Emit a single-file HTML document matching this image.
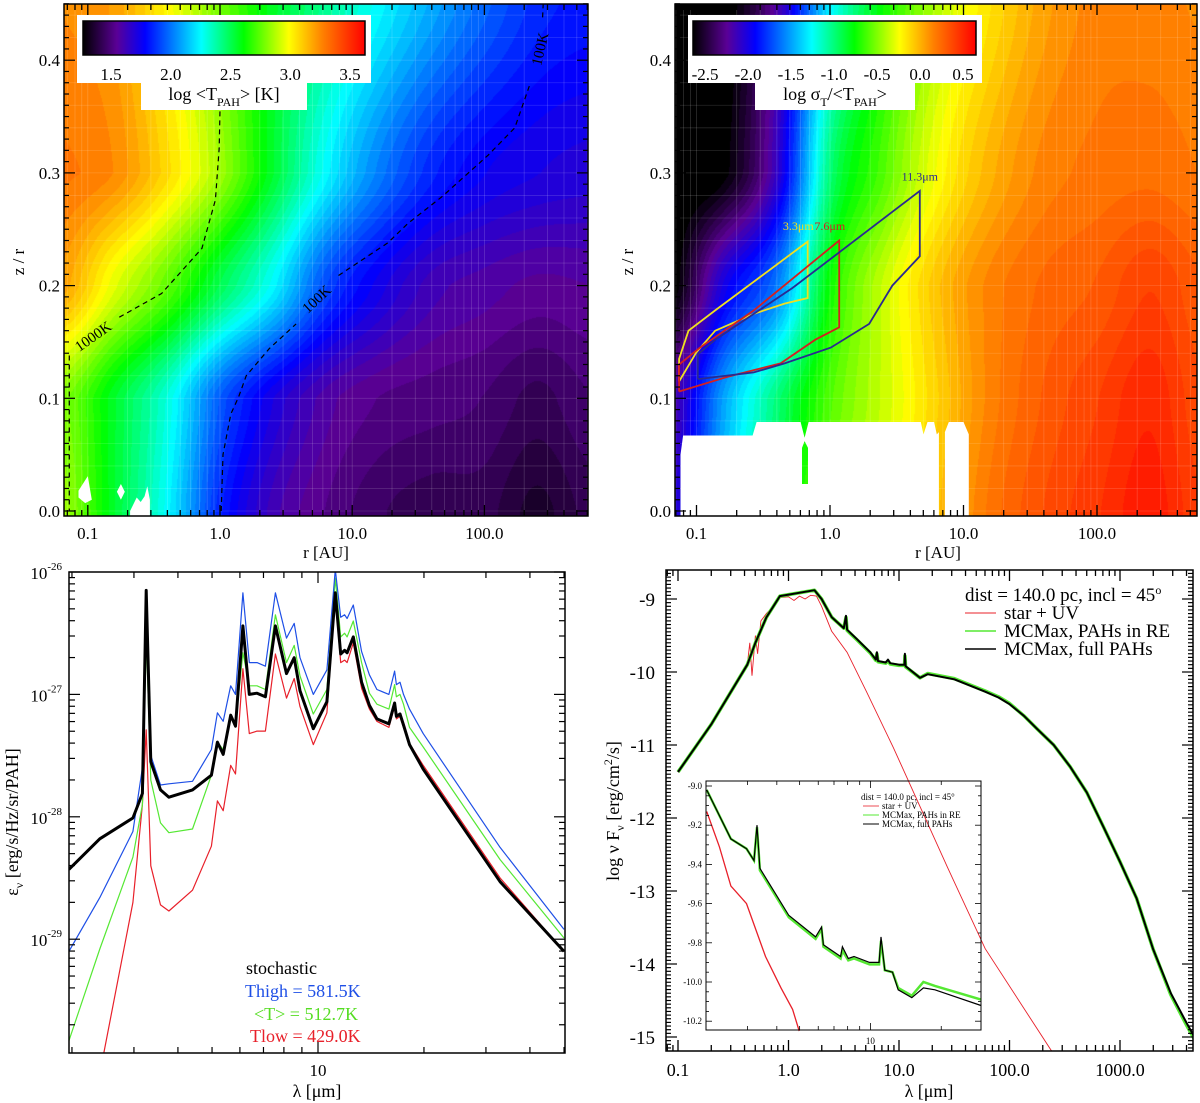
<!DOCTYPE html>
<html style="margin:0;width:1200px;height:1103px;overflow:hidden"><head><meta charset="utf-8"><style>
body{margin:0;background:#fff;width:1200px;height:1103px;overflow:hidden;position:relative;font-family:"Liberation Serif",serif}
canvas,svg{position:absolute;left:0;top:0;display:block}
text{font-family:"Liberation Serif",serif}
</style></head><body>
<canvas id="heat" width="1200" height="1103"></canvas>
<svg id="chart" width="1200" height="1103" xmlns="http://www.w3.org/2000/svg" font-family="Liberation Serif, serif">
<defs>
<clipPath id="cBL"><rect x="69" y="572" width="496" height="481"/></clipPath>
<clipPath id="cBR"><rect x="666" y="570" width="527" height="481"/></clipPath>
<clipPath id="cTL"><rect x="64" y="4" width="524" height="512"/></clipPath>
<clipPath id="cTR"><rect x="675" y="4" width="522" height="512"/></clipPath>
<linearGradient id="cmapGrad" x1="0" x2="1" y1="0" y2="0">
<stop offset="0" stop-color="#000000"/><stop offset="0.12" stop-color="#5a0096"/><stop offset="0.22" stop-color="#0000ff"/><stop offset="0.42" stop-color="#00ffff"/><stop offset="0.57" stop-color="#00ff00"/><stop offset="0.73" stop-color="#ffff00"/><stop offset="0.85" stop-color="#ff8000"/><stop offset="1" stop-color="#ff0000"/>
</linearGradient>
</defs>
<g id="gTL"></g>
<g id="gTR"></g>
<g id="gBL"></g>
<g id="gBR"></g>
<!-- colorbars -->
<rect x="77" y="15" width="294" height="68" fill="#fff"/>
<rect x="141" y="82" width="166" height="28" fill="#fff"/>
<rect x="83" y="21" width="282" height="34" fill="url(#cmapGrad)" stroke="#000" stroke-width="1.5"/>
<text x="224" y="100" font-size="18" text-anchor="middle">log &lt;T<tspan font-size="12" dy="6">PAH</tspan><tspan dy="-6">&gt; [K]</tspan></text>
<rect x="688" y="15" width="294" height="68" fill="#fff"/>
<rect x="755" y="82" width="160" height="28" fill="#fff"/>
<rect x="693" y="21" width="283" height="34" fill="url(#cmapGrad)" stroke="#000" stroke-width="1.5"/>
<text x="835" y="100" font-size="18" text-anchor="middle">log σ<tspan font-size="12" dy="6">T</tspan><tspan dy="-6">/&lt;T</tspan><tspan font-size="12" dy="6">PAH</tspan><tspan dy="-6">&gt;</tspan></text>
<g id="gCB"></g>
<!-- axis titles -->
<text x="326" y="558" font-size="17" text-anchor="middle">r [AU]</text>
<text x="938" y="558" font-size="17" text-anchor="middle">r [AU]</text>
<text transform="translate(24,262) rotate(-90)" font-size="17" text-anchor="middle">z / r</text>
<text transform="translate(633,262) rotate(-90)" font-size="17" text-anchor="middle">z / r</text>
<text x="317" y="1097" font-size="18" text-anchor="middle">λ [μm]</text>
<text x="929" y="1097" font-size="18" text-anchor="middle">λ [μm]</text>
<text transform="translate(18,822) rotate(-90)" font-size="18" text-anchor="middle">ε<tspan font-size="12" dy="5">ν</tspan><tspan dy="-5"> [erg/s/Hz/sr/PAH]</tspan></text>
<text transform="translate(619,811) rotate(-90)" font-size="18" text-anchor="middle">log ν F<tspan font-size="12" dy="5">ν</tspan><tspan dy="-5"> [erg/cm</tspan><tspan font-size="12" dy="-7">2</tspan><tspan dy="7">/s]</tspan></text>
<!-- BL legend -->
<text x="246" y="974" font-size="18" fill="#000">stochastic</text>
<text x="245" y="997" font-size="18" fill="#1e4fe6">Thigh = 581.5K</text>
<text x="254" y="1020" font-size="18" fill="#55dd22">&lt;T&gt; = 512.7K</text>
<text x="250" y="1042" font-size="18" fill="#e8202a">Tlow = 429.0K</text>
<!-- BR legend -->
<text x="965" y="601" font-size="19">dist = 140.0 pc,  incl = 45<tspan font-size="12" dy="-7">o</tspan></text>
<line x1="965" y1="613" x2="996" y2="613" stroke="#e8202a" stroke-width="1"/>
<text x="1004" y="619" font-size="19">star + UV</text>
<line x1="965" y1="631" x2="996" y2="631" stroke="#55e833" stroke-width="1.5"/>
<text x="1004" y="637" font-size="19">MCMax, PAHs in RE</text>
<line x1="965" y1="649" x2="996" y2="649" stroke="#000" stroke-width="1.5"/>
<text x="1004" y="655" font-size="19">MCMax, full PAHs</text>
<!-- inset legend -->
<text x="861" y="800" font-size="9">dist = 140.0 pc,  incl = 45°</text>
<line x1="863" y1="806" x2="879" y2="806" stroke="#e8202a" stroke-width="0.8"/>
<text x="882" y="809" font-size="9">star + UV</text>
<line x1="863" y1="815" x2="879" y2="815" stroke="#55e833" stroke-width="1"/>
<text x="882" y="818" font-size="9">MCMax, PAHs in RE</text>
<line x1="863" y1="824" x2="879" y2="824" stroke="#000" stroke-width="1"/>
<text x="882" y="827" font-size="9">MCMax, full PAHs</text>
</svg>
<script>
// ===== data: top-left temperature map (log T) on grid of log r x z/r =====
const mapLogR=[-1.2,-0.8,-0.4,0,0.4,0.8,1.2,1.6,2.0,2.4,2.8];
const mapZ=[0,0.1,0.2,0.3,0.45];
const tlT_z000=[2.85,2.55,2.25,1.85,1.62,1.52,1.45,1.42,1.42,1.35,1.42];
const tlT_z010=[2.8,2.55,2.3,1.95,1.72,1.58,1.52,1.5,1.48,1.43,1.48];
const tlT_z020=[3.2,2.95,2.75,2.5,2.25,1.92,1.74,1.62,1.58,1.55,1.56];
const tlT_z030=[3.3,3.25,3.07,2.85,2.55,2.25,2.02,1.85,1.76,1.72,1.7];
const tlT_z045=[3.25,3.2,3.0,2.78,2.56,2.41,2.25,2.1,1.97,1.86,1.82];
// top-right dispersion map (log sigma/T)
const trS_z000=[-2.1,-1.4,-0.9,-0.5,-0.3,-0.05,0.2,0.35,0.45,0.55,0.4];
const trS_z010=[-2.2,-1.5,-1.0,-0.6,-0.35,-0.1,0.15,0.3,0.4,0.5,0.35];
const trS_z020=[-2.7,-2.0,-1.6,-0.75,-0.35,-0.05,0.15,0.25,0.3,0.4,0.3];
const trS_z030=[-2.7,-2.65,-2.1,-1.0,-0.6,-0.25,0.0,0.15,0.2,0.22,0.18];
const trS_z045=[-2.7,-2.7,-2.2,-1.3,-0.75,-0.4,-0.15,0.05,0.15,0.15,0.12];
const tlColorTicks=[1.5,2.0,2.5,3.0,3.5];
const trColorTicks=[-2.5,-2.0,-1.5,-1.0,-0.5,0.0,0.5];
// contours (log r, z/r)
const c1000_lr=[-0.762,-0.442,-0.137,-0.035,-0.006,0];
const c1000_z=[0.172,0.193,0.233,0.276,0.322,0.356];
const c1000edge_lr=[-1.14,-1.14];
const c1000edge_z=[0.138,0.0];
const c100a_lr=[0.009,0.023,0.082,0.14,0.198,0.372,0.576];
const c100a_z=[0.0,0.05,0.086,0.101,0.12,0.144,0.166];
const c100b_lr=[0.896,1.27,1.42,1.68,2.03,2.23,2.34];
const c100b_z=[0.209,0.238,0.255,0.279,0.316,0.34,0.377];
const c100c_lr=[2.44,2.445];
const c100c_z=[0.438,0.45];
// band-emission regions (log r, z/r)
const reg33_lr=[-1.13,-1.13,-1.06,-0.86,-0.167,-0.167,-0.34,-0.57,-0.86,-1.0,-1.13];
const reg33_z=[0.115,0.135,0.16,0.178,0.239,0.189,0.184,0.175,0.16,0.141,0.115];
const reg76_lr=[-1.13,-1.13,-0.974,-0.571,0.069,0.069,-0.11,-0.37,-0.77,-1.13];
const reg76_z=[0.106,0.13,0.145,0.178,0.24,0.163,0.152,0.131,0.119,0.106];
const reg113_lr=[-0.99,-0.99,-0.86,-0.28,0.673,0.673,0.467,0.294,0.006,-0.34,-0.571,-0.99];
const reg113_z=[0.117,0.139,0.152,0.198,0.284,0.226,0.2,0.166,0.145,0.131,0.123,0.117];
// masked (no data) regions
const maskA_lr=[-1.12,-1.12,-1.1,-0.58,-0.55,-0.22,-0.19,-0.16,0.68,0.70,0.73,0.78,0.80,0.816,0.816];
const maskA_z=[-0.005,0.05,0.067,0.067,0.079,0.079,0.065,0.079,0.079,0.068,0.079,0.079,0.068,0.07,-0.005];
const maskHole_lr=[-0.21,-0.165,-0.165,-0.19,-0.21];
const maskHole_z=[0.024,0.024,0.056,0.062,0.056];
const maskB_lr=[0.861,0.861,0.89,1.0,1.04,1.04];
const maskB_z=[-0.005,0.07,0.079,0.079,0.068,-0.005];
const blob1_lr=[-1.07,-1.0,-0.97,-1.02,-1.07];
const blob1_z=[0.018,0.031,0.01,0.007,0.012];
const blob2_lr=[-0.78,-0.75,-0.72,-0.75];
const blob2_z=[0.017,0.024,0.017,0.01];
const blob3_lr=[-0.68,-0.63,-0.6,-0.57,-0.55,-0.53,-0.53,-0.68];
const blob3_z=[0.0,0.012,0.008,0.013,0.022,0.01,-0.005,-0.005];
// ===== bottom-left emission spectra =====
const specLambda=[1.96,2.40,2.98,3.17,3.25,3.35,3.57,3.77,4.40,4.98,5.18,5.38,5.65,5.83,6.12,6.38,6.71,7.09,7.57,8.14,8.56,8.89,9.7,10.6,11.2,11.6,11.9,12.1,12.6,13.3,14.0,14.7,15.9,16.5,16.7,17.1,17.5,18.2,19.9,32.9,50];
const specStochastic=[-28.43,-28.18,-28.01,-27.81,-26.15,-27.55,-27.78,-27.84,-27.78,-27.66,-27.39,-27.49,-27.17,-27.26,-26.44,-27.00,-26.99,-27.02,-26.44,-26.83,-26.70,-26.97,-27.28,-27.06,-26.17,-26.67,-26.64,-26.66,-26.53,-26.90,-27.09,-27.20,-27.24,-27.07,-27.18,-27.16,-27.25,-27.41,-27.61,-28.53,-29.10];
const specThigh=[-29.10,-28.66,-28.12,-27.6,-26.30,-27.5,-27.74,-27.73,-27.71,-27.45,-27.15,-27.22,-26.93,-27.0,-26.17,-26.74,-26.74,-26.77,-26.17,-26.54,-26.42,-26.7,-27.0,-26.8,-25.98,-26.37,-26.35,-26.38,-26.27,-26.65,-26.84,-26.96,-27.0,-26.81,-26.92,-26.90,-27.0,-27.12,-27.32,-28.25,-28.92];
const specTmean=[-29.83,-29.08,-28.33,-27.9,-26.5,-27.7,-28.05,-28.13,-28.10,-27.66,-27.39,-27.45,-27.18,-27.25,-26.66,-26.93,-26.93,-26.96,-26.35,-26.74,-26.60,-26.85,-27.16,-26.96,-26.05,-26.53,-26.50,-26.53,-26.40,-26.74,-26.99,-27.08,-27.12,-26.92,-27.02,-27.00,-27.08,-27.27,-27.43,-28.35,-28.99];
const specTlow=[-31.5,-30.1,-28.70,-27.9,-27.29,-28.4,-28.72,-28.77,-28.6,-28.24,-27.87,-27.95,-27.58,-27.65,-26.79,-27.32,-27.30,-27.3,-26.67,-27.03,-26.87,-27.1,-27.41,-27.15,-26.2,-26.74,-26.72,-26.74,-26.58,-26.95,-27.12,-27.22,-27.27,-27.1,-27.2,-27.18,-27.27,-27.4,-27.58,-28.5,-29.1];
// ===== bottom-right SED (log lambda, log nuFnu) =====
const sedLogLam=[-1.0,-0.70,-0.373,-0.30,-0.2,-0.078,0.235,0.30,0.392,0.50,0.52,0.53,0.62,0.74,0.79,0.80,0.81,0.88,0.90,0.92,1.0,1.05,1.053,1.06,1.19,1.26,1.50,1.78,1.9,2.0,2.13,2.25,2.4,2.55,2.7,2.85,3.0,3.15,3.3,3.46,3.6,3.70];
const sedFull=[-11.37,-10.72,-9.90,-9.6,-9.25,-8.96,-8.88,-9.0,-9.25,-9.4,-9.23,-9.42,-9.55,-9.73,-9.83,-9.73,-9.85,-9.87,-9.83,-9.88,-9.9,-9.90,-9.75,-9.92,-10.08,-10.03,-10.1,-10.27,-10.35,-10.44,-10.6,-10.78,-11.0,-11.3,-11.65,-12.12,-12.6,-13.1,-13.8,-14.4,-14.8,-15.07];
const sedRE=[-11.37,-10.72,-9.90,-9.6,-9.25,-8.96,-8.88,-9.0,-9.25,-9.4,-9.25,-9.43,-9.56,-9.74,-9.84,-9.75,-9.86,-9.88,-9.85,-9.89,-9.91,-9.91,-9.78,-9.93,-10.08,-10.02,-10.09,-10.26,-10.34,-10.43,-10.6,-10.78,-11.0,-11.3,-11.65,-12.12,-12.6,-13.1,-13.8,-14.42,-14.83,-15.1];
const starLogLam=[-1.0,-0.70,-0.373,-0.35,-0.33,-0.30,-0.28,-0.25,-0.2,-0.15,-0.1,-0.078,0.0,0.05,0.1,0.15,0.2,0.253,0.30,0.39,0.53,0.706,0.95,1.44,1.78,2.38,2.5];
const starFlux=[-11.37,-10.72,-9.90,-9.6,-10.05,-9.5,-9.75,-9.3,-9.2,-9.12,-9.0,-8.98,-8.97,-9.02,-8.96,-9.0,-8.95,-8.96,-9.1,-9.44,-9.73,-10.27,-11.04,-12.68,-13.79,-15.19,-15.6];
// inset
const insLogLam=[0.304,0.407,0.473,0.505,0.518,0.53,0.653,0.767,0.792,0.8,0.873,0.881,0.906,0.93,0.996,1.037,1.045,1.061,1.094,1.118,1.176,1.225,1.274,1.47];
const insFull=[-9.02,-9.27,-9.32,-9.38,-9.2,-9.42,-9.66,-9.77,-9.72,-9.81,-9.87,-9.82,-9.88,-9.87,-9.90,-9.90,-9.77,-9.94,-9.95,-10.04,-10.08,-10.03,-10.04,-10.12];
const insRE=[-9.02,-9.27,-9.32,-9.38,-9.21,-9.43,-9.67,-9.78,-9.73,-9.82,-9.88,-9.84,-9.89,-9.88,-9.91,-9.91,-9.79,-9.94,-9.95,-10.03,-10.07,-10.0,-10.02,-10.09];
const insStarLogLam=[0.304,0.358,0.407,0.473,0.554,0.62,0.669,0.697];
const insStar=[-9.13,-9.31,-9.51,-9.6,-9.87,-10.03,-10.14,-10.25];

// ===== axis transforms =====
const TL={x0:64,x1:588,y0:4,y1:516,xs:v=>220+v*132.2,ys:v=>511-v*1127};
const TR={x0:675,x1:1197,y0:4,y1:516,xs:v=>830+v*133.5,ys:v=>511-v*1127};
const BL={x0:69,x1:565,y0:572,y1:1053,xs:v=>318+(v-1)*352,ys:v=>572+(-26-v)*122.4};
const BR={x0:666,x1:1193,y0:570,y1:1051,xs:v=>678+(v+1)*110.5,ys:v=>599+(-9-v)*73};
const IN={x0:706,x1:981,y0:781,y1:1030,xs:v=>706+(v-0.301)/1.169*275,ys:v=>786+(-9-v)*196};

const NS='http://www.w3.org/2000/svg';
function mk(tag,attrs,parent){const e=document.createElementNS(NS,tag);for(const k in attrs)e.setAttribute(k,attrs[k]);parent.appendChild(e);return e;}
function pts(P,xa,ya,xf){let s='';for(let i=0;i<xa.length;i++){const x=P.xs(xf?xf(xa[i]):xa[i]);const y=P.ys(ya[i]);s+=(i?'L':'M')+x.toFixed(1)+' '+y.toFixed(1);}return s;}

// ===== heatmaps =====
const stops=[[0,0,0,0],[0.12,90,0,150],[0.22,0,0,255],[0.42,0,255,255],[0.57,0,255,0],[0.73,255,255,0],[0.85,255,128,0],[1,255,0,0]];
function cmap(f){f=Math.max(0,Math.min(1,f));for(let i=1;i<stops.length;i++){if(f<=stops[i][0]){const a=stops[i-1],b=stops[i];const t=(f-a[0])/(b[0]-a[0]);return [a[1]+t*(b[1]-a[1]),a[2]+t*(b[2]-a[2]),a[3]+t*(b[3]-a[3])];}}return [255,0,0];}
function sm(t){return t*t*(3-2*t);}
function interp(rows,lr,z){let fi=(lr-mapLogR[0])/(mapLogR[1]-mapLogR[0]);fi=Math.max(0,Math.min(mapLogR.length-1.0001,fi));const i0=Math.floor(fi),t=fi-i0;
 let j=0;const zz=Math.max(0,Math.min(0.45,z));while(j<mapZ.length-2&&zz>mapZ[j+1])j++;const u=(zz-mapZ[j])/(mapZ[j+1]-mapZ[j]);
 // Catmull-Rom along r for smoother bands
 function rowAt(r){const p0=r[Math.max(0,i0-1)],p1=r[i0],p2=r[i0+1],p3=r[Math.min(r.length-1,i0+2)];
  return 0.5*((2*p1)+(-p0+p2)*t+(2*p0-5*p1+4*p2-p3)*t*t+(-p0+3*p1-3*p2+p3)*t*t*t);}
 const a=rowAt(rows[j]);const b=rowAt(rows[j+1]);const uu=0.5*u+0.5*sm(u);return a*(1-uu)+b*uu;}
const ctx=document.getElementById('heat').getContext('2d');
function drawHeat(P,rows,vmin,vmax,sx,sy){const w=P.x1-P.x0,h=P.y1-P.y0;const img=ctx.createImageData(w,h);
 for(let py=0;py<h;py++){const z=(511-(P.y0+py+0.5))/1127;for(let px=0;px<w;px++){const lr=(P.x0+px+0.5-sx)/sy;let f=(interp(rows,lr,z)-vmin)/(vmax-vmin);f=Math.round(f*60)/60;const c=cmap(f);const k=(py*w+px)*4;img.data[k]=c[0];img.data[k+1]=c[1];img.data[k+2]=c[2];img.data[k+3]=255;}}
 ctx.putImageData(img,P.x0,P.y0);}
drawHeat(TL,[tlT_z000,tlT_z010,tlT_z020,tlT_z030,tlT_z045],1.266,3.625,220,132.2);
drawHeat(TR,[trS_z000,trS_z010,trS_z020,trS_z030,trS_z045],-2.64,0.65,830,133.5);

const gTL=document.getElementById('gTL'),gTR=document.getElementById('gTR'),gBL=document.getElementById('gBL'),gBR=document.getElementById('gBR'),gCB=document.getElementById('gCB');

// faint grid lines on maps
for(const [P,g] of [[TL,gTL],[TR,gTR]]){
 for(let d=-2;d<=3;d++)for(let m=1;m<10;m++){const v=d+Math.log10(m);const x=P.xs(v);if(x<=P.x0||x>=P.x1)continue;
  const ln=mk('line',{x1:x,y1:P.y0,x2:x,y2:P.y1,stroke:'#fff','stroke-opacity':0.18,'stroke-width':0.8},g);
  
  }
 for(let k=0;k<=45;k+=2){const y=P.ys(k/100);const ln=mk('line',{x1:P.x0,y1:y,x2:P.x1,y2:y,stroke:'#fff','stroke-opacity':0.15,'stroke-width':0.8},g);
  
  }
}
// masks
for(const [xa,za] of [[blob1_lr,blob1_z],[blob2_lr,blob2_z],[blob3_lr,blob3_z]]){const p=mk('path',{d:pts(TL,xa,za)+'Z',fill:'#fff','clip-path':'url(#cTL)'},gTL);
 
 }
{const p=mk('path',{d:pts(TR,maskA_lr,maskA_z)+'Z'+pts(TR,maskHole_lr,maskHole_z)+'Z',fill:'#fff','fill-rule':'evenodd','clip-path':'url(#cTR)'},gTR);
 
 
 const p2=mk('path',{d:pts(TR,maskB_lr,maskB_z)+'Z',fill:'#fff','clip-path':'url(#cTR)'},gTR);
 
 }
// contours
for(const [xa,za] of [[c1000_lr,c1000_z],[c1000edge_lr,c1000edge_z],[c100a_lr,c100a_z],[c100b_lr,c100b_z],[c100c_lr,c100c_z]]){
 const p=mk('path',{d:pts(TL,xa,za),fill:'none',stroke:'#000','stroke-width':1.2,'stroke-dasharray':'5,4','clip-path':'url(#cTL)'},gTL);
 
 }
const cLabels=[['1000K',-0.96,0.155,-35],['100K',0.73,0.188,-43],['100K',2.42,0.41,-77]];
for(const c of cLabels){const t=mk('text',{x:0,y:0,'font-size':15,'text-anchor':'middle',transform:`translate(${TL.xs(c[1])},${TL.ys(c[2])}) rotate(${c[3]}) translate(0,5)`},gTL);t.textContent=c[0];
 
 }
// regions
const regs=[[reg33_lr,reg33_z,'#f0e020','3.3μm',-0.167,0.253,'end'],[reg76_lr,reg76_z,'#d42020','7.6μm',0.069,0.253,'end'],[reg113_lr,reg113_z,'#2a2a90','11.3μm',0.673,0.297,'middle']];
for(const r of regs){const p=mk('path',{d:pts(TR,r[0],r[1]),fill:'none',stroke:r[2],'stroke-width':1.8},gTR);
 
 
 const t=mk('text',{x:TR.xs(r[4])+(r[6]==='end'?6:0),y:TR.ys(r[5])+4,'font-size':12,fill:r[2],'text-anchor':r[6]},gTR);t.textContent=r[3];
 
 }
// colorbar ticks
for(const v of tlColorTicks){const t=mk('text',{x:83+(v-1.266)*119.5,y:80,'font-size':17,'text-anchor':'middle'},gCB);t.textContent=v.toFixed(1);
 
 }
for(const v of trColorTicks){const t=mk('text',{x:693+(v+2.64)*86,y:80,'font-size':17,'text-anchor':'middle'},gCB);t.textContent=v.toFixed(1);
 
 }

// ===== spectra =====
const lg=v=>Math.log10(v);
const specSeries=[[specTlow,'#e8202a',1.2],[specTmean,'#55e833',1.2],[specThigh,'#1e4fe6',1.2],[specStochastic,'#000',3]];
for(const s of specSeries){const p=mk('path',{d:pts(BL,specLambda,s[0],lg),fill:'none',stroke:s[1],'stroke-width':s[2],'stroke-linejoin':'round','clip-path':'url(#cBL)'},gBL);
 
 }
// SED
{const p=mk('path',{d:pts(BR,starLogLam,starFlux),fill:'none',stroke:'#e8202a','stroke-width':0.9,'clip-path':'url(#cBR)'},gBR);
 
 
 const p2=mk('path',{d:pts(BR,sedLogLam,sedRE),fill:'none',stroke:'#55e833','stroke-width':3.5,'stroke-linejoin':'round','clip-path':'url(#cBR)'},gBR);
 
 
 const p3=mk('path',{d:pts(BR,sedLogLam,sedFull),fill:'none',stroke:'#000','stroke-width':2,'stroke-linejoin':'round','clip-path':'url(#cBR)'},gBR);
 
 
 const q1=mk('path',{d:pts(IN,insStarLogLam,insStar),fill:'none',stroke:'#e8202a','stroke-width':1.3},gBR);
 
 
 const q2=mk('path',{d:pts(IN,insLogLam,insRE),fill:'none',stroke:'#55e833','stroke-width':2.5},gBR);
 
 
 const q3=mk('path',{d:pts(IN,insLogLam,insFull),fill:'none',stroke:'#000','stroke-width':1.2},gBR);
 
 }

// ===== axes =====
function frame(P,g,w){const r=mk('rect',{x:P.x0,y:P.y0,width:P.x1-P.x0,height:P.y1-P.y0,fill:'none',stroke:'#000','stroke-width':w},g);
 
 }
function xt(P,g,v,len,w){const x=P.xs(v);if(x<P.x0-0.5||x>P.x1+0.5)return;
 const a=mk('line',{x1:x,y1:P.y1,x2:x,y2:P.y1-len,stroke:'#000','stroke-width':w},g);
 
 
 const b=mk('line',{x1:x,y1:P.y0,x2:x,y2:P.y0+len,stroke:'#000','stroke-width':w},g);
 
 }
function yt(P,g,v,len,w){const y=P.ys(v);if(y<P.y0-0.5||y>P.y1+0.5)return;
 const a=mk('line',{x1:P.x0,y1:y,x2:P.x0+len,y2:y,stroke:'#000','stroke-width':w},g);
 
 
 const b=mk('line',{x1:P.x1,y1:y,x2:P.x1-len,y2:y,stroke:'#000','stroke-width':w},g);
 
 }
function logTicks(P,g,lo,hi,maj,minr,w){for(let d=lo;d<=hi;d++)for(let m=1;m<10;m++)xt(P,g,d+Math.log10(m),m===1?maj:minr,w);}
function label(g,x,y,s,anchor,size,name){const t=mk('text',{x:x,y:y,'font-size':size,'text-anchor':anchor},g);t.textContent=s;
 
 return t;}

const mapXLabels=['0.1','1.0','10.0','100.0'];
const mapYLabels=['0.0','0.1','0.2','0.3','0.4'];
for(const [P,g] of [[TL,gTL],[TR,gTR]]){
 frame(P,g,1.5);logTicks(P,g,-2,3,11,6,1.3);
 for(let k=0;k<=45;k++)yt(P,g,k/100,k%10===0?11:5,1.2);
 mapXLabels.forEach((s,i)=>label(g,P.xs(i-1),539,s,'middle',17,'x-tick-label'));
 mapYLabels.forEach((s,i)=>label(g,P.x0-4,P.ys(i/10)+6,s,'end',17,'y-tick-label'));
}
// BL axes
frame(BL,gBL,1.5);
for(let d=0;d<=1;d++)for(let m=1;m<10;m++){const v=d+Math.log10(m);xt(BL,gBL,v,m===1?11:6,1.2);}
label(gBL,BL.xs(1),1076,'10','middle',17,'x-tick-label');
const blDecades=[-26,-27,-28,-29];
for(let d=-30;d<=-26;d++)for(let m=1;m<10;m++)yt(BL,gBL,d+Math.log10(m),m===1?11:6,1.2);
for(const d of blDecades){const t=mk('text',{x:62,y:BL.ys(d)+7,'font-size':17,'text-anchor':'end'},gBL);
 
 
 const a=mk('tspan',{},t);a.textContent='10';const b=mk('tspan',{'font-size':11,dy:-9},t);b.textContent=String(d);}
// BR axes
frame(BR,gBR,1.5);logTicks(BR,gBR,-2,4,11,6,1.3);
const brXLabels=['0.1','1.0','10.0','100.0','1000.0'];
brXLabels.forEach((s,i)=>label(gBR,BR.xs(i-1),1076,s,'middle',18,'x-tick-label'));
for(let k=-304;k<=-173;k++){const v=k/20;yt(BR,gBR,v,k%20===0?11:5,1.2);}
for(let k=-15;k<=-9;k++)label(gBR,655,BR.ys(k)+7,String(k),'end',19,'y-tick-label');
// inset axes
frame(IN,gBR,1);
for(let d=0;d<=1;d++)for(let m=1;m<10;m++)xt(IN,gBR,d+Math.log10(m),m===1?7:4,0.8);
label(gBR,IN.xs(1),1044,'10','middle',9,'inset-x-tick-label');
for(let k=-205;k<=-180;k++){const v=k/20;yt(IN,gBR,v,k%4===0?6:3,0.8);}
for(let k=0;k<=6;k++){const v=-9-k*0.2;label(gBR,702,IN.ys(v)+3,v.toFixed(1),'end',9,'inset-y-tick-label');}
</script>
</body></html>
